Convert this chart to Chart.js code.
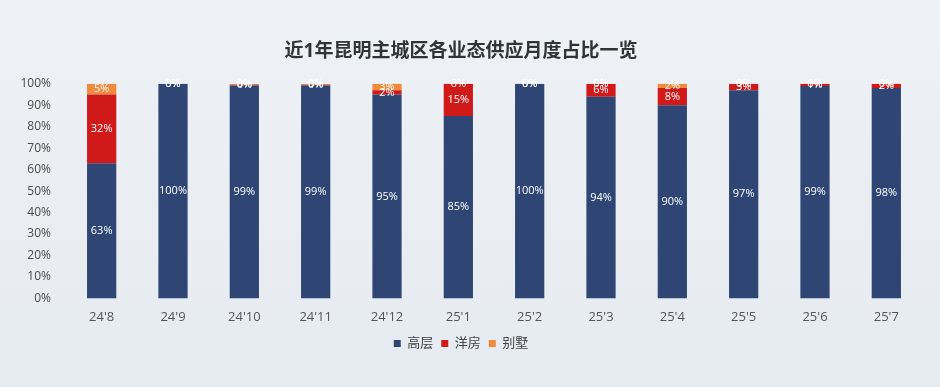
<!DOCTYPE html>
<html><head><meta charset="utf-8">
<script src="https://cdn.jsdelivr.net/npm/chart.js@4/dist/chart.umd.min.js"></script>
<style>
html,body{margin:0;padding:0;background:#e9edf2;}
#wrap{width:940px;height:387px;position:relative;background:linear-gradient(180deg,#eef1f5 0%,#e6ebf1 100%);}
</style></head>
<body><div id="wrap"><canvas id="c" width="940" height="387"></canvas></div>
<script>
const categories = ["24'8","24'9","24'10","24'11","24'12","25'1","25'2","25'3","25'4","25'5","25'6","25'7"];
const highRise = [63,100,99.2,99.2,95,85,100,94,90,97,99,98];
const garden   = [32,0,0.4,0.4,2,15,0,6,8,3,1,2];
const villa    = [5,0,0.4,0.4,3,0,0,0,2,0,0,0];
const yTicks = [0,10,20,30,40,50,60,70,80,90,100];
const seriesNames = ["高层","洋房","别墅"];

const FONT = "'Open Sans','Noto Sans CJK SC',sans-serif";

const labelPlugin = {
  id:'segLabels',
  afterDatasetsDraw(chart){
    const ctx = chart.ctx;
    ctx.save();
    ctx.font = "11px " + FONT;
    ctx.fillStyle = "#ffffff";
    ctx.textAlign = "center";
    ctx.textBaseline = "middle";
    chart.data.datasets.forEach((ds,i)=>{
      const meta = chart.getDatasetMeta(i);
      meta.data.forEach((el,j)=>{
        const v = ds.data[j];
        const cy = (el.y + el.base)/2;
        ctx.fillText(Math.round(v) + "%", el.x, cy);
      });
    });
    ctx.restore();
  }
};

new Chart(document.getElementById('c'), {
  type:'bar',
  data:{
    labels:categories,
    datasets:[
      {label:seriesNames[0], data:highRise, backgroundColor:'#2f4674'},
      {label:seriesNames[1], data:garden, backgroundColor:'#d01a1a'},
      {label:seriesNames[2], data:villa, backgroundColor:'#f08a3c'}
    ]
  },
  options:{
    responsive:false,
    animation:false,
    layout:{padding:{left:0,right:18,top:0,bottom:27}},
    datasets:{bar:{categoryPercentage:1,barPercentage:0.41}},
    plugins:{
      title:{display:true,text:'近1年昆明主城区各业态供应月度占比一览',color:'#333',
        font:{family:FONT,size:19,weight:'bold'},padding:{top:40,bottom:21}},
      legend:{position:'bottom',labels:{boxWidth:7,boxHeight:7,padding:8,color:'#444',
        font:{family:FONT,size:13}}},
      tooltip:{enabled:false}
    },
    scales:{
      x:{stacked:true,grid:{display:false},border:{display:false},
        afterFit(s){s.height+=1;},
        ticks:{color:'#555',font:{family:FONT,size:13},padding:3}},
      y:{stacked:true,min:0,max:100,grid:{display:false},border:{display:false},
        afterFit(s){s.width=66;},
        afterBuildTicks(s){s.ticks=yTicks.map(v=>({value:v}));},
        ticks:{color:'#4a4a4a',font:{family:FONT,size:12},padding:7,callback:v=>v+'%'}}
    }
  },
  plugins:[labelPlugin]
});
</script></body></html>
